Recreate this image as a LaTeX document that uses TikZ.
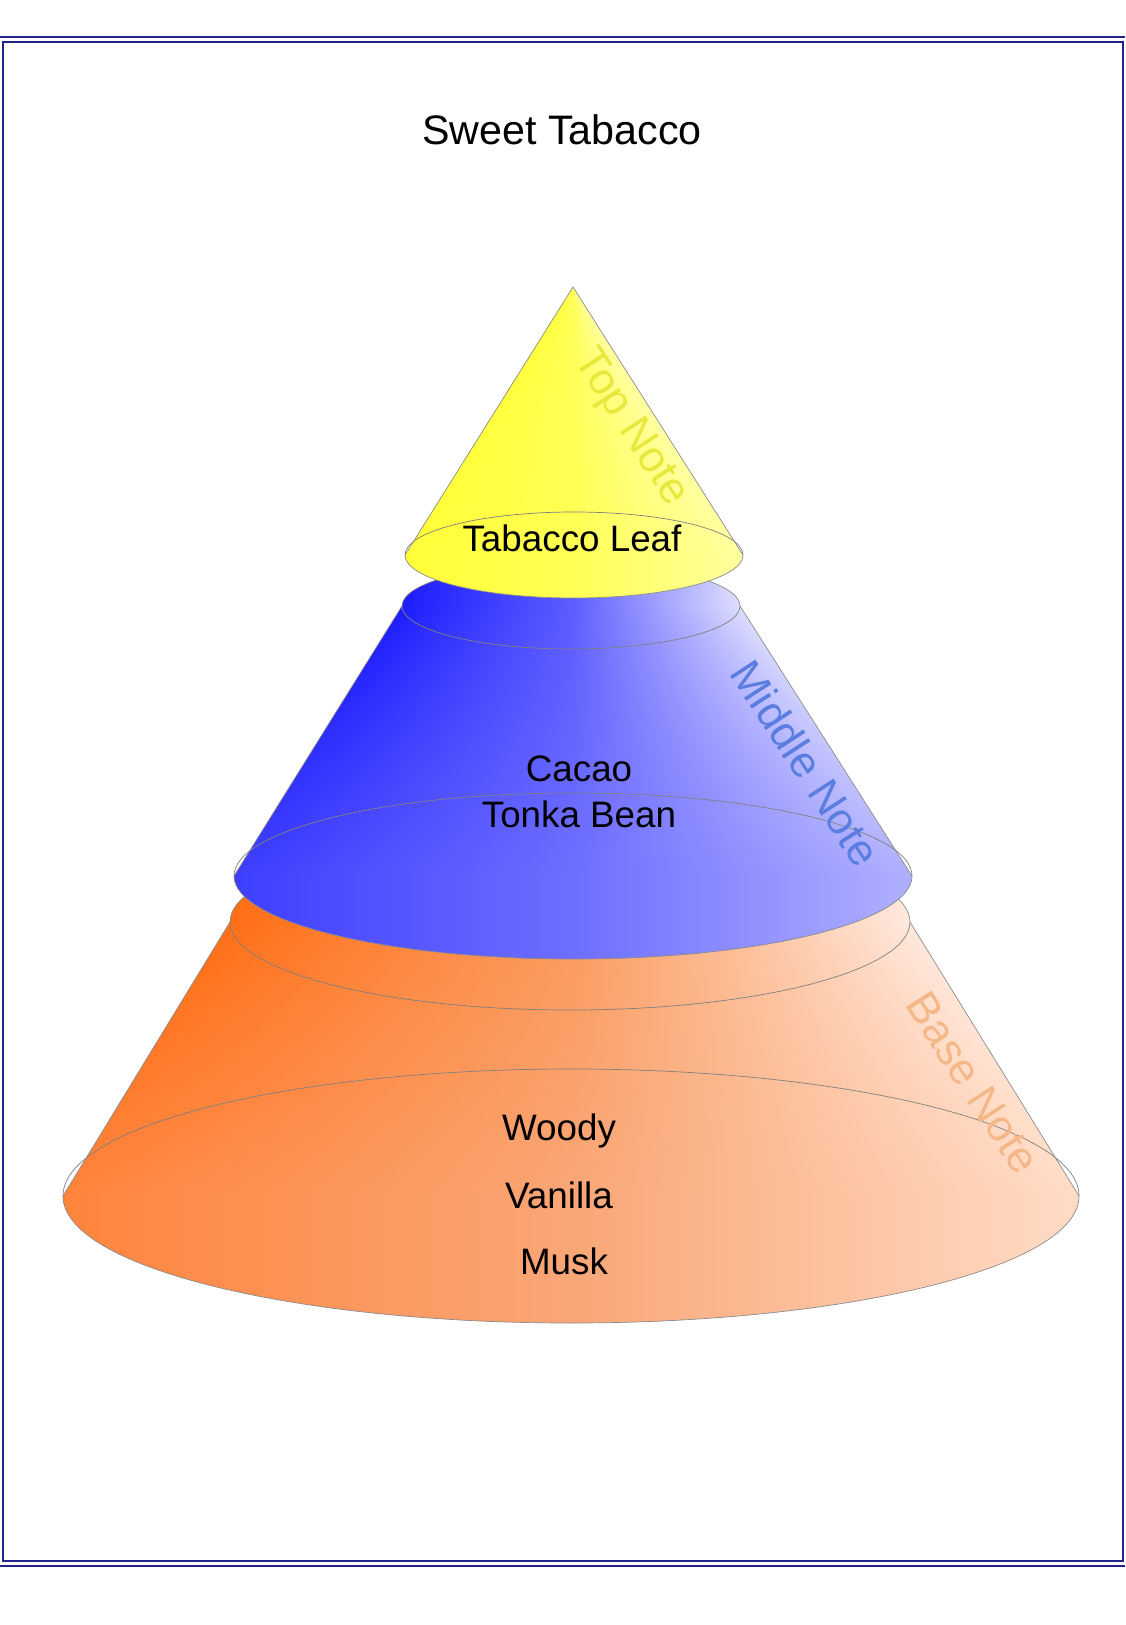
\documentclass[tikz,border=0pt]{standalone}
\usepackage{fontspec}
\setmainfont{Liberation Sans}
\definecolor{frameblue}{HTML}{23238C}
\definecolor{ylTL}{HTML}{FFFF40}
\definecolor{ylTM}{HTML}{FFFF58}
\definecolor{ylTR}{HTML}{FFFFA8}
\definecolor{ylBL}{HTML}{FFFF38}
\definecolor{ylBM}{HTML}{FFFF55}
\definecolor{ylBR}{HTML}{FFFFA0}
\definecolor{blTL}{HTML}{1C1CFF}
\definecolor{blTM}{HTML}{5C5CFF}
\definecolor{blTR}{HTML}{E0E0FF}
\definecolor{blBL}{HTML}{3E3EFF}
\definecolor{blBM}{HTML}{6E6EFF}
\definecolor{blBR}{HTML}{B0B0FF}
\definecolor{orTL}{HTML}{FF6E16}
\definecolor{orTM}{HTML}{FB9A5C}
\definecolor{orTR}{HTML}{FFE9DE}
\definecolor{orBL}{HTML}{FF843C}
\definecolor{orBM}{HTML}{F9A676}
\definecolor{orBR}{HTML}{FFDCC6}
\definecolor{topnote}{HTML}{E8E83C}
\definecolor{midnote}{HTML}{5A7EE0}
\definecolor{basenote}{HTML}{F4B888}
% strips: cxT cyT rxT cxB cyB rxB ystart yend colourprefix
\newcommand\fillstrips[9]{%
  \pgfmathtruncatemacro\cnN{ceil((#8-#7)/4)}%
  \foreach \i in {0,...,\cnN}{%
    \pgfmathsetmacro\cnY{#7+4*\i}%
    \pgfmathsetmacro\cnT{max(0,min(1,(\cnY+2-#2)/(#5-#2)))}%
    \pgfmathsetmacro\cnH{#3+(#6-#3)*\cnT}%
    \pgfmathsetmacro\cnC{#1+(#4-#1)*\cnT}%
    \pgfmathtruncatemacro\cnP{100*(1-\cnT)}%
    \path[left color=#9TL!\cnP!#9BL, right color=#9TR!\cnP!#9BR,
          middle color=#9TM!\cnP!#9BM]
      (\cnC-\cnH-1,-\cnY) rectangle (\cnC+\cnH+1,-\cnY-5);
  }}
\begin{document}
\begin{tikzpicture}[x=0.5pt,y=0.5pt,
  outline/.style={draw=black!45, line width=0.35pt},
  rim/.style={draw=black!50, line width=0.35pt},
  txt/.style={font=\fontsize{18.4}{22}\selectfont, inner sep=0pt, anchor=base},
  ttl/.style={font=\fontsize{20.6}{24}\selectfont, inner sep=0pt, anchor=base},
  notelabel/.style={font=\fontsize{22}{26}\selectfont, inner sep=0pt, rotate=-57}]
\useasboundingbox (0,0) rectangle (1125,-1625);
\fill[white] (0,0) rectangle (1125,-1625);
% frame
\draw[frameblue, line width=1pt] (0,-37) -- (1125,-37);
\draw[frameblue, line width=1pt] (0,-1566) -- (1125,-1566);
\draw[frameblue, line width=1pt] (2.5,-42.5) rectangle (1122.5,-1560.5);
% base cone (orange)
\begin{scope}
  \clip (230,-922) arc[start angle=180,end angle=0,x radius=340,y radius=88]
    -- (1079,-1196) arc[start angle=0,end angle=-180,x radius=508,y radius=127] -- cycle;
  \fillstrips{570}{922}{340}{571}{1196}{508}{832}{1325}{or}
\end{scope}
\draw[outline] (230,-922) arc[start angle=180,end angle=0,x radius=340,y radius=88]
  -- (1079,-1196) arc[start angle=0,end angle=-180,x radius=508,y radius=127] -- cycle;
\draw[rim] (230,-922) arc[start angle=180,end angle=360,x radius=340,y radius=88];
\draw[rim] (63,-1196) arc[start angle=180,end angle=0,x radius=508,y radius=127];
% middle cone (blue)
\begin{scope}
  \clip (402,-606) arc[start angle=180,end angle=0,x radius=169,y radius=43]
    -- (912,-876) arc[start angle=0,end angle=-180,x radius=339,y radius=83] -- cycle;
  \fillstrips{571}{606}{169}{573}{876}{339}{561}{961}{bl}
\end{scope}
\draw[outline] (402,-606) arc[start angle=180,end angle=0,x radius=169,y radius=43]
  -- (912,-876) arc[start angle=0,end angle=-180,x radius=339,y radius=83] -- cycle;
\draw[rim] (402,-606) arc[start angle=180,end angle=360,x radius=169,y radius=43];
\draw[rim] (234,-876) arc[start angle=180,end angle=0,x radius=339,y radius=83];
% top cone (yellow)
\coordinate (apex) at (573,-287);
\begin{scope}
  \clip (apex) -- (743,-555) arc[start angle=0,end angle=-180,x radius=169,y radius=43] -- cycle;
  \fillstrips{573}{287}{0}{574}{555}{169}{285}{600}{yl}
\end{scope}
\draw[outline] (apex) -- (743,-555) arc[start angle=0,end angle=-180,x radius=169,y radius=43] -- cycle;
\draw[rim] (405,-555) arc[start angle=180,end angle=0,x radius=169,y radius=43];
% texts
\node[ttl] (title) at (562,-145) {Sweet Tabacco};
\node[txt] (leaf) at (572,-551.5) {Tabacco Leaf};
\node[txt] (cacao) at (579,-781) {Cacao};
\node[txt] (tonka) at (579,-827) {Tonka Bean};
\node[txt] (woody) at (559,-1140) {Woody};
\node[txt] (vanilla) at (559,-1208) {Vanilla};
\node[txt] (musk) at (564,-1274) {Musk};
\node[notelabel, text=topnote] (topn) at (630,-428) {Top Note};
\node[notelabel, text=midnote] (midn) at (806,-763) {Middle Note};
\node[notelabel, text=basenote] (basen) at (973,-1083) {Base Note};
\end{tikzpicture}
\end{document}
